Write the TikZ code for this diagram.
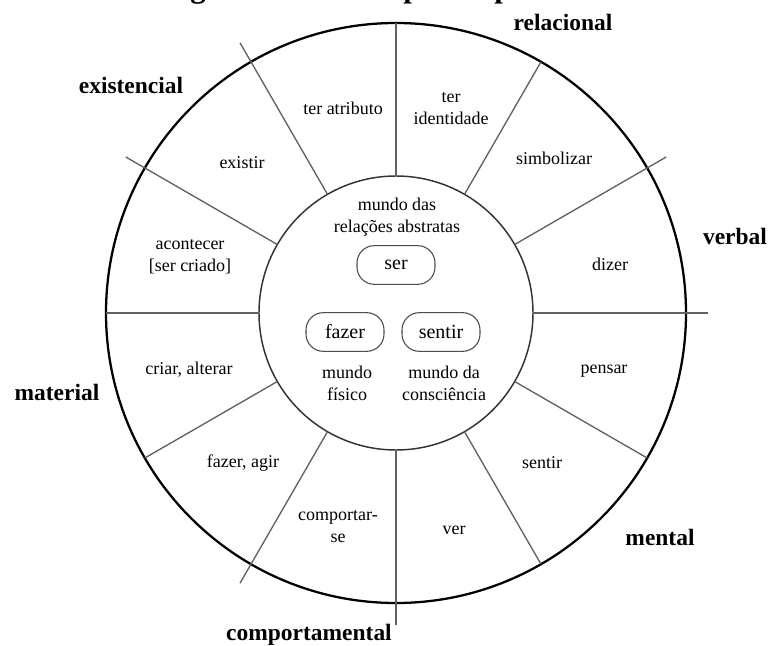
\documentclass[tikz,border=0pt]{standalone}
\usepackage{fontspec}
\setmainfont{Liberation Serif}
\begin{document}
\begin{tikzpicture}[x=0.75pt,y=-0.75pt,
  sect/.style={font=\fontsize{13.5}{16.5}\selectfont, align=center, inner sep=0pt},
  cat/.style={font=\fontsize{17.6}{20}\selectfont\bfseries, inner sep=0pt},
  verbbox/.style={draw=black!70, line width=0.8pt, rounded corners=13pt,
    minimum width=58.5pt, minimum height=29pt, inner sep=0pt,
    font=\fontsize{15}{18}\selectfont},
  spoke/.style={draw=black!62, line width=1pt},
]
\useasboundingbox (0,0) rectangle (769,646);
\fill[white] (0,0) rectangle (769,646);
% title (cut off by the page edge)
\node[anchor=base west, inner sep=0pt, font=\fontsize{23.2}{26}\selectfont\bfseries] (title) at (160,-2.3) {A gramática dos tipos de processos};
% circles
\coordinate (O) at (396,313);
\node[circle, draw=black, line width=1.7pt, minimum size=435pt, inner sep=0pt, outer sep=0pt] (outer) at (O) {};
\node[circle, draw=black!80, line width=1.1pt, minimum size=205.5pt, inner sep=0pt, outer sep=0pt] (inner) at (O) {};
% spokes within the ring
\foreach \a in {60,90,180,210,300,330} {\draw[spoke] (inner.\a) -- (outer.\a);}
% spokes that reach past the ring
\foreach \a in {0,30,120,150,240,270} {\path (O) ++(-\a:312) coordinate (e\a); \draw[spoke] (inner.\a) -- (e\a);}
% sector texts
\node[sect] (tatr) at (343,108) {ter atributo};
\node[sect] (tid) at (451,108.5) {ter\\identidade};
\node[sect] (simb) at (554,158) {simbolizar};
\node[sect] (diz) at (610,264) {dizer};
\node[sect] (pens) at (604,371) {pensar};
\node[sect] (sent) at (542,463) {sentir};
\node[sect] (ver) at (454,530) {ver};
\node[sect] (comp) at (338,527) {comportar-\\se};
\node[sect] (faz) at (243,463) {fazer, agir};
\node[sect] (cri) at (189,370) {criar, alterar};
\node[sect] (acon) at (190,257) {acontecer\\{[ser criado]}};
\node[sect] (exis) at (242,163) {existir};
% inner texts
\node[sect] (abst) at (397,217.5) {mundo das\\relações abstratas};
\node[verbbox] (ser) at (396,265) {ser};
\node[verbbox] (fazer) at (345,332) {fazer};
\node[verbbox] (sentir) at (441,332) {sentir};
\node[sect] (fis) at (347,383) {mundo\\físico};
\node[sect] (cons) at (444,383) {mundo da\\consciência};
% category labels
\node[cat] (rel) at (563,22) {relacional};
\node[cat] (vb) at (735,236) {verbal};
\node[cat] (men) at (660,537) {mental};
\node[cat] (cpt) at (309,635) {comportamental};
\node[cat] (mat) at (57,392) {material};
\node[cat] (exi) at (131,85) {existencial};
\end{tikzpicture}
\end{document}
